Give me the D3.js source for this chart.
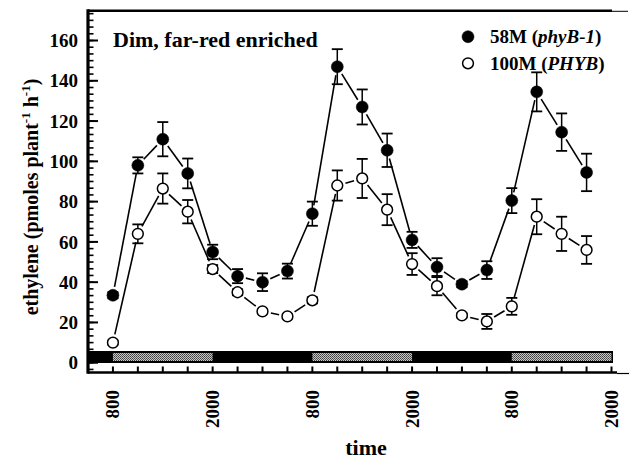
<!DOCTYPE html>
<html>
<head>
<meta charset="utf-8">
<script src="https://cdn.jsdelivr.net/npm/d3@7"></script>
<style>
  html, body { margin: 0; padding: 0; background: #fff; }
  svg { display: block; }
  text { font-family: "Liberation Serif", "Times New Roman", serif; font-weight: bold; fill: #000; }
</style>
</head>
<body>
<svg id="chart" width="630" height="461"></svg>
<script>
// ---- data ----
// sampling times in hours after the first 800 h clock reading
const hours = [0, 3, 6, 9, 12, 15, 18, 21, 24, 27, 30, 33, 36, 39, 42, 45, 48, 51, 54, 57];
// 58M (phyB-1), filled circles
const phyB1 = [33.5, 98, 111, 94, 55, 43, 40, 45.5, 74, 147, 127, 105.5, 61, 47.5, 39, 46, 80.5, 134.5, 114.5, 94.5];
const phyB1Err = [1.5, 4, 8.5, 7.4, 3.6, 3.5, 4.4, 3.7, 6, 8.7, 8.7, 8.3, 4, 4.4, 1.5, 4.4, 6.2, 9.7, 9.3, 9.3];
// 100M (PHYB), open circles
const PHYB = [10, 64, 86.5, 75, 46.5, 35, 25.5, 23, 31, 88, 91.5, 76, 49, 38, 23.5, 20.5, 28, 72.5, 64, 56];
const PHYBErr = [1, 4.7, 7.5, 5.8, 2, 1.5, 1, 1, 1.5, 7.5, 9.7, 7.7, 5.4, 4.5, 1, 3.7, 4.2, 8.7, 8.5, 6.9];
// x-axis tick labels (clock time)
const tickHours = [0, 12, 24, 36, 48, 60];
const tickLabels = ["800", "2000", "800", "2000", "800", "2000"];
// light periods (800 to 2000)
const lightOn = [0, 24, 48];
const lightOff = [12, 36, 60];
const yTicks = [0, 20, 40, 60, 80, 100, 120, 140, 160];
const seriesNames = ["58M (", "phyB-1", ")"];
const seriesNames2 = ["100M (", "PHYB", ")"];

// ---- layout ----
const svg = d3.select("#chart");
const x = d3.scaleLinear().domain([-3, 60]).range([88, 611.5]);
const y = d3.scaleLinear().domain([-5, 175]).range([372.8, 10.3]);

// pattern for light periods
const defs = svg.append("defs");
const pat = defs.append("pattern").attr("id", "stip").attr("patternUnits", "userSpaceOnUse")
  .attr("width", 2).attr("height", 2);
pat.append("rect").attr("width", 2).attr("height", 2).attr("fill", "#c4c4c4");
pat.append("rect").attr("x", 0).attr("y", 0).attr("width", 1).attr("height", 1).attr("fill", "#404040");
pat.append("rect").attr("x", 1).attr("y", 1).attr("width", 1).attr("height", 1).attr("fill", "#5a5a5a");

// dark/light bar
const barTop = 351, barBot = 363;
svg.append("rect").attr("x", x(-3)).attr("y", barTop)
  .attr("width", x(60) + 1.5 - x(-3)).attr("height", barBot - barTop).attr("fill", "#000");
svg.selectAll("rect.light").data(lightOn).enter().append("rect").attr("class", "light")
  .attr("x", d => x(d)).attr("y", barTop + 2)
  .attr("width", (d, i) => x(lightOff[i]) - x(d)).attr("height", barBot - barTop - 4)
  .attr("fill", "url(#stip)");

// axes frame
const axisY = 372.5;
svg.append("line").attr("x1", x(-3)).attr("x2", 617).attr("y1", axisY).attr("y2", axisY)
  .attr("stroke", "#000").attr("stroke-width", 2.6);
svg.append("line").attr("x1", 617).attr("x2", 629).attr("y1", axisY + 1).attr("y2", axisY + 1)
  .attr("stroke", "#000").attr("stroke-width", 1.2);
svg.append("line").attr("x1", x(-3)).attr("x2", x(-3)).attr("y1", y(175) - 1).attr("y2", axisY + 1.3)
  .attr("stroke", "#000").attr("stroke-width", 3.2);
svg.append("line").attr("x1", x(-3)).attr("x2", 612).attr("y1", y(175) + 0.5).attr("y2", y(175) + 0.5)
  .attr("stroke", "#000").attr("stroke-width", 2.4);
svg.append("line").attr("x1", 612).attr("x2", 628).attr("y1", y(175) + 1).attr("y2", y(175) + 1)
  .attr("stroke", "#000").attr("stroke-width", 1);

// y ticks: major every 20, 5 minor between
const minor = d3.range(-20 / 6 , 175, 20 / 6).filter(v => v > -5 && v < 175);
svg.selectAll("line.ymin").data(minor).enter().append("line").attr("class", "ymin")
  .attr("x1", x(-3)).attr("x2", x(-3) + 5.5)
  .attr("y1", d => y(d)).attr("y2", d => y(d)).attr("stroke", "#000").attr("stroke-width", 1.6);
svg.selectAll("line.ymaj").data(yTicks).enter().append("line").attr("class", "ymaj")
  .attr("x1", x(-3)).attr("x2", x(-3) + 10)
  .attr("y1", d => y(d)).attr("y2", d => y(d)).attr("stroke", "#000").attr("stroke-width", 2);
svg.selectAll("text.ylab").data(yTicks).enter().append("text").attr("class", "ylab")
  .attr("x", 78).attr("y", d => y(d)).attr("dy", "0.35em").attr("text-anchor", "end")
  .attr("font-size", 19).text(d => d);

// x ticks every 3 h
const xTicks = d3.range(0, 61, 3);
svg.selectAll("line.xt").data(xTicks).enter().append("line").attr("class", "xt")
  .attr("x1", d => x(d)).attr("x2", d => x(d)).attr("y1", axisY).attr("y2", axisY - 6)
  .attr("stroke", "#000").attr("stroke-width", 2);
svg.selectAll("text.xlab").data(tickHours).enter().append("text").attr("class", "xlab")
  .attr("transform", d => `translate(${x(d) + 6.5},390) rotate(-90)`)
  .attr("text-anchor", "end").attr("font-size", 19).text((d, i) => tickLabels[i]);

// axis titles
svg.append("text").attr("x", 366).attr("y", 455).attr("text-anchor", "middle")
  .attr("font-size", 22).text("time");
const yl = svg.append("text").attr("transform", "translate(38,197) rotate(-90)")
  .attr("text-anchor", "middle").attr("font-size", 20);
yl.append("tspan").text("ethylene (pmoles plant");
yl.append("tspan").attr("font-size", 13).attr("dy", -8).text("-1");
yl.append("tspan").attr("dy", 8).text(" h");
yl.append("tspan").attr("font-size", 13).attr("dy", -8).text("-1");
yl.append("tspan").attr("dy", 8).text(")");

// title
svg.append("text").attr("x", 113).attr("y", 47).attr("font-size", 22).text("Dim, far-red enriched");

// ---- series ----
function gappedSegments(vals) {
  const segs = [];
  const g = 8.5;
  for (let i = 0; i < vals.length - 1; i++) {
    const x1 = x(hours[i]), y1 = y(vals[i]), x2 = x(hours[i + 1]), y2 = y(vals[i + 1]);
    const dx = x2 - x1, dy = y2 - y1, L = Math.hypot(dx, dy);
    if (L <= 2 * g + 1) continue;
    const ux = dx / L, uy = dy / L;
    segs.push([x1 + ux * g, y1 + uy * g, x2 - ux * g, y2 - uy * g]);
  }
  return segs;
}
function drawSeries(vals, errs, filled, cls) {
  const g = svg.append("g").attr("class", cls);
  g.selectAll("line.seg").data(gappedSegments(vals)).enter().append("line").attr("class", "seg")
    .attr("x1", d => d[0]).attr("y1", d => d[1]).attr("x2", d => d[2]).attr("y2", d => d[3])
    .attr("stroke", "#000").attr("stroke-width", 1.6);
  const eb = g.selectAll("g.eb").data(vals).enter().append("g").attr("class", "eb");
  eb.append("line").attr("x1", (d, i) => x(hours[i])).attr("x2", (d, i) => x(hours[i]))
    .attr("y1", (d, i) => y(d + errs[i])).attr("y2", (d, i) => y(d - errs[i]))
    .attr("stroke", "#000").attr("stroke-width", 1.5);
  [1, -1].forEach(s => {
    eb.append("line").attr("x1", (d, i) => x(hours[i]) - 5.5).attr("x2", (d, i) => x(hours[i]) + 5.5)
      .attr("y1", (d, i) => y(d + s * errs[i])).attr("y2", (d, i) => y(d + s * errs[i]))
      .attr("stroke", "#000").attr("stroke-width", 1.8);
  });
  g.selectAll("circle").data(vals).enter().append("circle")
    .attr("cx", (d, i) => x(hours[i])).attr("cy", d => y(d))
    .attr("r", filled ? 6 : 5.4)
    .attr("fill", filled ? "#000" : "#fff").attr("stroke", "#000").attr("stroke-width", filled ? 0.5 : 1.5);
}
drawSeries(PHYB, PHYBErr, false, "open");
drawSeries(phyB1, phyB1Err, true, "filled");

// legend
const leg = [
  { parts: seriesNames, filled: true, y: 36.7 },
  { parts: seriesNames2, filled: false, y: 63.3 }
];
leg.forEach(l => {
  svg.append("circle").attr("cx", 468).attr("cy", l.y).attr("r", l.filled ? 6 : 5.4)
    .attr("fill", l.filled ? "#000" : "#fff").attr("stroke", "#000").attr("stroke-width", l.filled ? 0.5 : 1.5);
  const t = svg.append("text").attr("x", 490).attr("y", l.y + 6.5).attr("font-size", 19);
  t.append("tspan").text(l.parts[0]);
  t.append("tspan").attr("font-style", "italic").text(l.parts[1]);
  t.append("tspan").text(l.parts[2]);
});
</script>
</body>
</html>
